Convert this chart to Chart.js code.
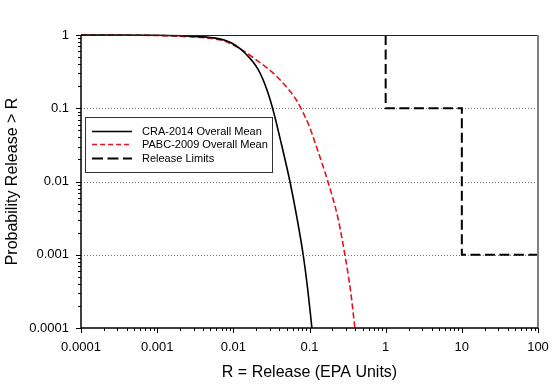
<!DOCTYPE html>
<html>
<head>
<meta charset="utf-8">
<script src="https://cdn.jsdelivr.net/npm/chart.js@4.4.0/dist/chart.umd.min.js"></script>
<style>
  html, body { margin: 0; padding: 0; background: #fff; }
  #wrap { width: 557px; height: 384px; position: relative; }
</style>
</head>
<body>
<div id="wrap"><canvas id="chart"></canvas></div>
<script>
// --- data ---
const xTickValues = [0.0001, 0.001, 0.01, 0.1, 1, 10, 100];
const xTickLabels = ['0.0001', '0.001', '0.01', '0.1', '1', '10', '100'];
const yTickValues = [0.0001, 0.001, 0.01, 0.1, 1];
const yTickLabels = ['0.0001', '0.001', '0.01', '0.1', '1'];

const craX = [0.0001, 0.001, 0.00269, 0.00493, 0.00776, 0.0105, 0.01419, 0.02124, 0.0276, 0.0328, 0.04276, 0.05534, 0.06846, 0.0826, 0.0953, 0.1075];
const craY = [1, 0.99, 0.963, 0.924, 0.846, 0.73, 0.568, 0.336, 0.179, 0.1, 0.0325, 0.01, 0.00318, 0.001, 0.00032, 0.0001];

const pabcX = [0.0001, 0.001, 0.00269, 0.00493, 0.00776, 0.01285, 0.02124, 0.03516, 0.0525, 0.0653, 0.0771, 0.0991, 0.1213, 0.1455, 0.1744, 0.2366, 0.2914, 0.3473, 0.3943];
const pabcY = [1, 0.984, 0.945, 0.901, 0.82, 0.63, 0.4375, 0.287, 0.183, 0.1358, 0.1, 0.0572, 0.0315, 0.0179, 0.01, 0.00315, 0.001, 0.000313, 0.0001];

const limitX = [1, 1, 10, 10, 100];
const limitY = [1, 0.1, 0.1, 0.001, 0.001];

const FONT = "'Liberation Sans', Arial, sans-serif";
const RED = '#e3141e';

const toPoints = (xs, ys) => xs.map((x, i) => ({ x: x, y: ys[i] }));

// minor decade ticks (1..9 x 10^n) for the axis decoration
function decadeTicks(min, max) {
    const out = [];
    for (let e = Math.round(Math.log10(min)); e < Math.round(Math.log10(max)); e++) {
        for (let k = 1; k < 10; k++) out.push({ v: k * Math.pow(10, e), major: k === 1 });
    }
    out.push({ v: max, major: true });
    return out;
}

// gridlines, ticks, frame and legend
const decorPlugin = {
    id: 'decor',
    beforeDatasetsDraw(chart) {
        const { ctx, chartArea: a, scales: { y } } = chart;
        ctx.save();
        ctx.strokeStyle = '#7a7a7a';
        ctx.lineWidth = 1;
        ctx.setLineDash([1, 2]);
        [0.1, 0.01, 0.001].forEach(v => {
            const py = Math.round(y.getPixelForValue(v)) + 0.5;
            ctx.beginPath();
            ctx.moveTo(a.left, py);
            ctx.lineTo(a.right, py);
            ctx.stroke();
        });
        ctx.restore();
    },
    afterDatasetsDraw(chart) {
        const { ctx, chartArea: a, scales: { x, y } } = chart;
        ctx.save();
        // top and right frame
        ctx.strokeStyle = '#222';
        ctx.lineWidth = 1;
        ctx.beginPath();
        ctx.moveTo(a.left, a.top + 0.5);
        ctx.lineTo(a.right, a.top + 0.5);
        ctx.stroke();
        ctx.strokeStyle = '#808080';
        ctx.lineWidth = 2;
        ctx.beginPath();
        ctx.moveTo(a.right, a.top);
        ctx.lineTo(a.right, a.bottom);
        ctx.stroke();
        // axes
        ctx.strokeStyle = '#000';
        ctx.lineWidth = 1.5;
        ctx.beginPath();
        ctx.moveTo(a.left, a.top);
        ctx.lineTo(a.left, a.bottom);
        ctx.lineTo(a.right, a.bottom);
        ctx.stroke();
        // ticks
        ctx.lineWidth = 1;
        decadeTicks(0.0001, 100).forEach(t => {
            const px = Math.round(x.getPixelForValue(t.v)) + 0.5;
            ctx.beginPath();
            ctx.moveTo(px, a.bottom);
            ctx.lineTo(px, a.bottom + (t.major ? 5 : 3));
            ctx.stroke();
        });
        decadeTicks(0.0001, 1).forEach(t => {
            const py = Math.round(y.getPixelForValue(t.v)) + 0.5;
            ctx.beginPath();
            ctx.moveTo(a.left, py);
            ctx.lineTo(a.left - (t.major ? 5 : 3), py);
            ctx.stroke();
        });
        ctx.restore();
    },
    afterDraw(chart) {
        const { ctx } = chart;
        const bx = 85, by = 117, bw = 187, bh = 55;
        ctx.save();
        ctx.fillStyle = '#fff';
        ctx.fillRect(bx, by, bw, bh);
        ctx.strokeStyle = '#333';
        ctx.lineWidth = 1;
        ctx.strokeRect(bx + 0.5, by + 0.5, bw, bh);
        ctx.font = '11px ' + FONT;
        ctx.textBaseline = 'middle';
        chart.data.datasets.forEach((ds, i) => {
            const ry = Math.round(by + 13.5 + i * 13.5) + 0.5;
            ctx.strokeStyle = ds.borderColor;
            ctx.lineWidth = ds.borderWidth;
            ctx.setLineDash(ds.legendDash || []);
            ctx.beginPath();
            ctx.moveTo(92, ry);
            ctx.lineTo(132, ry);
            ctx.stroke();
            ctx.setLineDash([]);
            ctx.fillStyle = '#000';
            ctx.fillText(ds.label, 142, ry);
        });
        ctx.restore();
    }
};

new Chart(document.getElementById('chart'), {
    type: 'line',
    data: {
        datasets: [
            {
                label: 'CRA-2014 Overall Mean',
                data: toPoints(craX, craY),
                borderColor: '#000',
                borderWidth: 1.6,
                pointRadius: 0,
                cubicInterpolationMode: 'monotone',
                clip: 3
            },
            {
                label: 'PABC-2009 Overall Mean',
                data: toPoints(pabcX, pabcY),
                borderColor: RED,
                borderWidth: 1.6,
                borderDash: [6, 3],
                legendDash: [5, 3],
                pointRadius: 0,
                cubicInterpolationMode: 'monotone',
                clip: 3
            },
            {
                label: 'Release Limits',
                data: toPoints(limitX, limitY),
                borderColor: '#000',
                borderWidth: 2,
                borderDash: [10, 4.5],
                legendDash: [11, 4.5],
                pointRadius: 0,
                tension: 0,
                clip: 3
            }
        ]
    },
    options: {
        responsive: true,
        maintainAspectRatio: false,
        animation: false,
        layout: { padding: { top: 35, right: 19, left: 0, bottom: 0 } },
        plugins: {
            legend: { display: false },
            tooltip: { enabled: false }
        },
        scales: {
            x: {
                type: 'logarithmic',
                min: 0.0001,
                max: 100,
                afterBuildTicks: s => { s.ticks = xTickValues.map(v => ({ value: v })); },
                afterFit: s => { s.height = 56; s.paddingLeft = 0; s.paddingRight = 0; },
                grid: { display: false, drawTicks: false },
                border: { display: false },
                ticks: {
                    autoSkip: false,
                    maxRotation: 0,
                    padding: 12,
                    color: '#000',
                    font: { family: FONT, size: 13 },
                    callback: (v, i) => xTickLabels[i]
                },
                title: {
                    display: true,
                    text: 'R = Release (EPA Units)',
                    color: '#000',
                    font: { family: FONT, size: 16 },
                    padding: { top: 0, bottom: 2 }
                }
            },
            y: {
                type: 'logarithmic',
                min: 0.0001,
                max: 1,
                afterBuildTicks: s => { s.ticks = yTickValues.map(v => ({ value: v })); },
                afterFit: s => { s.width = 81; },
                grid: { display: false, drawTicks: false },
                border: { display: false },
                ticks: {
                    autoSkip: false,
                    padding: 12,
                    color: '#000',
                    font: { family: FONT, size: 13 },
                    callback: (v, i) => yTickLabels[i]
                },
                title: {
                    display: true,
                    text: 'Probability Release > R',
                    color: '#000',
                    font: { family: FONT, size: 16 },
                    padding: { top: 3, bottom: 0 }
                }
            }
        }
    },
    plugins: [decorPlugin]
});
</script>
</body>
</html>
